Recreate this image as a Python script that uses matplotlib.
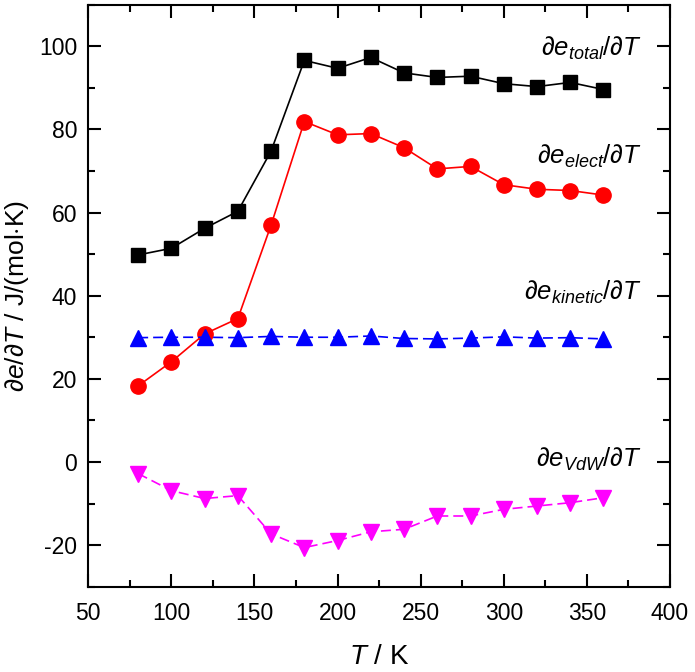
import matplotlib
matplotlib.use('Agg')
import matplotlib.pyplot as plt
from matplotlib.ticker import MultipleLocator

plt.rcParams['font.family'] = ['Liberation Sans', 'DejaVu Sans']
plt.rcParams['mathtext.fontset'] = 'custom'
plt.rcParams['mathtext.rm'] = 'Liberation Sans'
plt.rcParams['mathtext.it'] = 'Liberation Sans:italic'
plt.rcParams['axes.unicode_minus'] = False

# temperatures (K)
temp = [80, 100, 120, 140, 160, 180, 200, 220, 240, 260, 280, 300, 320, 340, 360]

# derivatives, J/(mol K)
d_total = [49.8, 51.4, 56.2, 60.3, 74.8, 96.6, 94.7, 97.3, 93.6, 92.5, 92.8, 91.0, 90.3, 91.3, 89.6]
d_elect = [18.3, 24.1, 30.8, 34.5, 57.0, 81.9, 78.7, 79.0, 75.6, 70.5, 71.1, 66.7, 65.6, 65.3, 64.2]
d_kinetic = [29.9, 30.0, 30.0, 29.9, 30.2, 30.0, 30.0, 30.3, 29.7, 29.6, 29.8, 30.1, 29.8, 29.9, 29.6]
d_vdw = [-2.8, -6.9, -8.8, -8.1, -17.3, -20.6, -18.9, -16.8, -16.2, -13.0, -13.0, -11.4, -10.6, -9.8, -8.6]

fig = plt.figure(figsize=(6.95, 6.72), dpi=100)
ax = fig.add_axes([0.127, 0.127, 0.837, 0.866])

ax.plot(temp, d_total, color='black', lw=1.2, marker='s', ms=9.5, label='total')
ax.plot(temp, d_elect, color='red', lw=1.2, marker='o', ms=11, label='elect')
ax.plot(temp, d_kinetic, color='blue', lw=1.2, ls=(0, (6, 3)), marker='^', ms=12, label='kinetic')
ax.plot(temp, d_vdw, color='magenta', lw=1.2, ls=(0, (6, 3)), marker='v', ms=12, label='vdw')

# series labels
lab_kw = dict(ha='right', va='baseline', fontsize=18.5)
ax.text(383, 97.6, r'$\partial e_{total}/\partial T$', **lab_kw)
ax.text(383, 71.8, r'$\partial e_{elect}/\partial T$', **lab_kw)
ax.text(383, 38.9, r'$\partial e_{kinetic}/\partial T$', **lab_kw)
ax.text(383, -1.2, r'$\partial e_{VdW}/\partial T$', **lab_kw)

ax.set_xlim(50, 400)
ax.set_ylim(-30, 110)
ax.xaxis.set_major_locator(MultipleLocator(50))
ax.xaxis.set_minor_locator(MultipleLocator(25))
ax.yaxis.set_major_locator(MultipleLocator(20))
ax.yaxis.set_minor_locator(MultipleLocator(10))
ax.tick_params(which='both', direction='in', top=True, right=True, width=1.5, labelsize=16.5)
ax.tick_params(which='major', length=9.5, pad=8)
ax.tick_params(axis='x', which='major', pad=11)
ax.tick_params(which='minor', length=5)
for s in ax.spines.values():
    s.set_linewidth(1.5)

ax.set_xlabel(r'$T$ / K', fontsize=20, labelpad=14)
ax.set_ylabel(r'$\partial e/\partial T$ / J/(mol$\cdot$K)', fontsize=19, labelpad=6)

fig.savefig('out.png', dpi=100)
